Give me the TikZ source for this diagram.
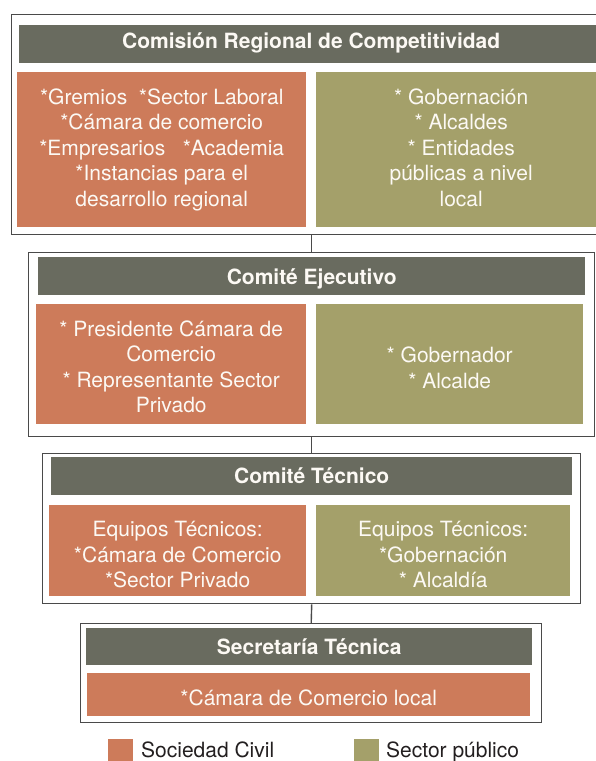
\documentclass[tikz,border=0pt]{standalone}
\usepackage{fontspec}
\setmainfont{TeX Gyre Heros}
\definecolor{hdr}{HTML}{696B5F}
\definecolor{civ}{HTML}{CD7B5A}
\definecolor{pub}{HTML}{A4A06A}
\definecolor{frm}{HTML}{4A4A4A}
\definecolor{txt}{HTML}{FCF9F4}
\definecolor{legtxt}{HTML}{231F20}
\begin{document}
\begin{tikzpicture}[x=1pt,y=-1pt,
  frame/.style={draw=frm,line width=1.4pt,anchor=north west,inner sep=0pt},
  hdrbox/.style={fill=hdr,anchor=north west,inner sep=0pt},
  civbox/.style={fill=civ,anchor=north west,inner sep=0pt},
  pubbox/.style={fill=pub,anchor=north west,inner sep=0pt},
  hdrtext/.style={inner sep=0pt,text=txt,font=\fontsize{21}{25.5}\selectfont\bfseries},
  bodytext/.style={inner sep=0pt,text=txt,align=center,font=\fontsize{21}{25.5}\selectfont},
  swatch/.style={anchor=north west,inner sep=0pt,minimum width=25pt,minimum height=24pt},
  legtext/.style={anchor=base west,inner sep=0pt,text=legtxt,font=\fontsize{21}{25.5}\selectfont},
  conn/.style={draw=frm,line width=1.4pt}
]
\useasboundingbox (0,0) rectangle (596,761);
\clip (0,0) rectangle (596,761);

% Frames
\node[frame,minimum width=600pt,minimum height=220pt] (f1) at (11,14) {};
\node[frame,minimum width=566pt,minimum height=184pt] (f2) at (28,252) {};
\node[frame,minimum width=538pt,minimum height=150pt] (f3) at (42,453) {};
\node[frame,minimum width=461pt,minimum height=99pt] (f4) at (80,623) {};

% Connectors
\draw[conn] (f1.south) -- (f2.north);
\draw[conn] (f2.south) -- (f3.north);
\draw[conn] (f3.south) -- (f4.north);

% Box 1
\node[hdrbox,minimum width=584pt,minimum height=38pt] (h1) at (19,25) {};
\node[hdrtext,yshift=1pt] (h1t) at (h1.center) {Comisión Regional de Competitividad};
\node[civbox,minimum width=289pt,minimum height=155pt] (c1) at (17,72) {};
\node[bodytext] (c1t) at (c1.center)
  {*Gremios\ \ *Sector Laboral\\*Cámara de comercio\\*Empresarios\ \ \ *Academia\\*Instancias para el\\desarrollo regional};
\node[pubbox,minimum width=290pt,minimum height=155pt] (p1) at (316,72) {};
\node[bodytext,yshift=2pt] (p1t) at (p1.center)
  {* Gobernación\\* Alcaldes\\* Entidades\\públicas a nivel\\local};

% Box 2
\node[hdrbox,minimum width=547pt,minimum height=38pt] (h2) at (38,257) {};
\node[hdrtext,yshift=-3pt] (h2t) at (h2.center) {Comité Ejecutivo};
\node[civbox,minimum width=270pt,minimum height=120pt] (c2) at (36,304) {};
\node[bodytext,yshift=-2.5pt] (c2t) at (c2.center)
  {* Presidente Cámara de\\Comercio\\* Representante Sector\\Privado};
\node[pubbox,minimum width=267pt,minimum height=120pt] (p2) at (316,304) {};
\node[bodytext,yshift=-3.5pt] (p2t) at (p2.center)
  {* Gobernador\\* Alcalde};

% Box 3
\node[hdrbox,minimum width=521pt,minimum height=38pt] (h3) at (51,457) {};
\node[hdrtext] (h3t) at (h3.center) {Comité Técnico};
\node[civbox,minimum width=257pt,minimum height=91pt] (c3) at (49,505) {};
\node[bodytext,yshift=-4pt] (c3t) at (c3.center)
  {Equipos Técnicos:\\*Cámara de Comercio\\*Sector Privado};
\node[pubbox,minimum width=254pt,minimum height=91pt] (p3) at (316,505) {};
\node[bodytext,yshift=-4pt] (p3t) at (p3.center)
  {Equipos Técnicos:\\*Gobernación\\* Alcaldía};

% Box 4
\node[hdrbox,minimum width=446pt,minimum height=37pt] (h4) at (86,628) {};
\node[hdrtext] (h4t) at (h4.center) {Secretaría Técnica};
\node[civbox,minimum width=443pt,minimum height=43pt] (c4) at (87,673) {};
\node[bodytext,yshift=-3pt] (c4t) at (c4.center) {*Cámara de Comercio local};

% Legend
\node[swatch,fill=civ] (l1) at (108,739) {};
\node[legtext] (t1) at (141,757.5) {Sociedad Civil};
\node[swatch,fill=pub] (l2) at (354,739) {};
\node[legtext] (t2) at (386,757.5) {Sector público};
\end{tikzpicture}
\end{document}
